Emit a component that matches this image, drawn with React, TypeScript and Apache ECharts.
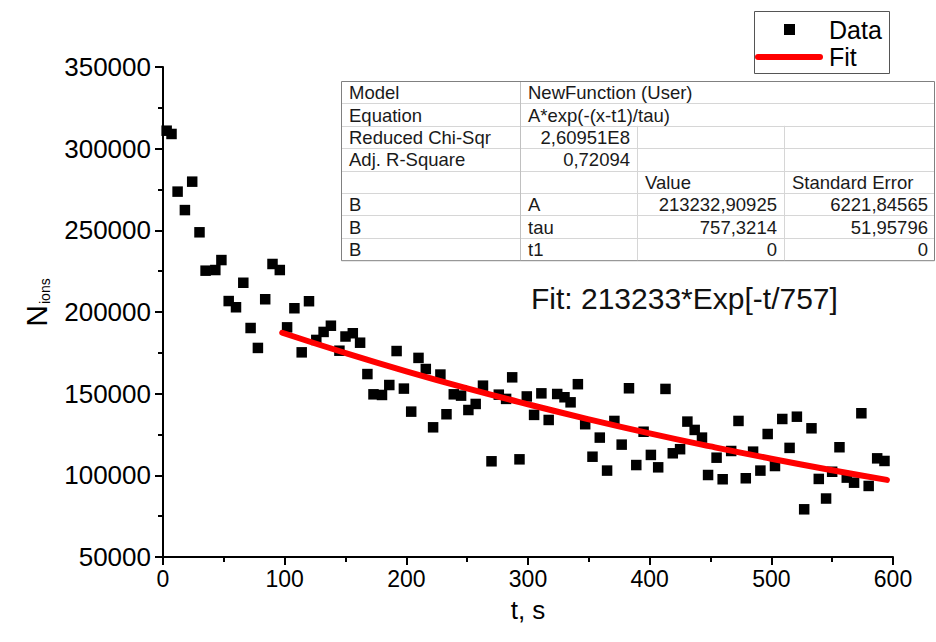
import React, { useEffect, useRef } from "react";
import * as echarts from "echarts";

// Measured data: time (s) and number of ions
const timeS = [
  3, 7, 12, 18, 24, 30, 35, 43, 48, 54, 60, 66, 72, 78, 84, 90, 96, 102, 108, 114,
  120, 126, 132, 138, 145, 150, 156, 162, 168, 173, 180, 186, 192, 198, 204, 210, 216, 222, 228, 233,
  239, 245, 251, 257, 263, 270, 276, 282, 287, 293, 299, 305, 311, 317, 324, 330, 335, 341, 347, 353,
  359, 365, 371, 377, 383, 389, 395, 401, 407, 413, 419, 425, 431, 437, 443, 448, 455, 460, 467, 473,
  479, 485, 491, 497, 503, 509, 515, 521, 527, 533, 539, 545, 550, 556, 562, 568, 574, 580, 587, 593,
];
const ionCounts = [
  311000, 309000, 273700, 262400, 279800, 248800, 225300, 225700, 231800, 206700,
  202900, 217900, 190200, 178000, 207800, 229400, 225700, 190600, 202300, 175300,
  206600, 182900, 187800, 191600, 176300, 185000, 187000, 181200, 162000, 149600,
  149200, 155300, 176100, 153100, 139000, 171900, 165100, 129400, 161700, 137400,
  149600, 148800, 140000, 143700, 154900, 108600, 149400, 146800, 160000, 109800,
  148300, 137000, 150200, 133900, 149800, 147800, 144700, 155800, 131300, 111400,
  123100, 102900, 133300, 118800, 153300, 106300, 126700, 112500, 104900, 152900,
  113500, 116000, 132900, 127800, 123100, 100200, 110800, 97600, 114900, 133300,
  98200, 114500, 102900, 125300, 105700, 134500, 116800, 135900, 79200, 128800,
  97800, 85800, 102200, 117200, 98600, 95500, 138000, 93500, 110400, 108800,
];

// Fit curve
const fitTimes = [98, 150, 200, 250, 300, 350, 400, 450, 500, 550, 595];
const fitValues = [187300, 174900, 163700, 153250, 143500, 134300, 125700, 117700, 110150, 103100, 97200];

// Fit report table
const tableRows = [
  ["Model", "NewFunction (User)", "", ""],
  ["Equation", "A*exp(-(x-t1)/tau)", "", ""],
  ["Reduced Chi-Sqr", "2,60951E8", "", ""],
  ["Adj. R-Square", "0,72094", "", ""],
  ["", "", "Value", "Standard Error"],
  ["B", "A", "213232,90925", "6221,84565"],
  ["B", "tau", "757,3214", "51,95796"],
  ["B", "t1", "0", "0"],
];

const fitLabel = "Fit: 213233*Exp[-t/757]";
const legendNames = ["Data", "Fit"];
const xAxisTitle = "t, s";
const yAxisTitleMain = "N";
const yAxisTitleSub = "ions";

const FONT = "'Liberation Sans', Arial, Helvetica, sans-serif";

function buildTable(): any[] {
  const colX = [341, 520, 637, 784, 935];
  const y0 = 81;
  const rh = 22.4;
  const h = rh * tableRows.length;
  const els: any[] = [];
  els.push({
    type: "rect",
    shape: { x: colX[0] + 0.5, y: y0 + 0.5, width: colX[4] - colX[0] - 1, height: h },
    style: { fill: "#ffffff", stroke: "#808080", lineWidth: 1 },
    z: 10,
  });
  for (let i = 1; i < tableRows.length; i++) {
    const y = Math.round(y0 + i * rh) + 0.5;
    els.push({
      type: "line",
      shape: { x1: colX[0] + 1, y1: y, x2: colX[4] - 1, y2: y },
      style: { stroke: "#d6d6d6", lineWidth: 1 },
      z: 11,
    });
  }
  els.push({
    type: "line",
    shape: { x1: colX[1] + 0.5, y1: y0 + 1, x2: colX[1] + 0.5, y2: y0 + h },
    style: { stroke: "#c0c0c0", lineWidth: 1 },
    z: 11,
  });
  for (const cx of [colX[2], colX[3]]) {
    els.push({
      type: "line",
      shape: { x1: cx + 0.5, y1: y0 + 2 * rh, x2: cx + 0.5, y2: y0 + h },
      style: { stroke: "#d6d6d6", lineWidth: 1 },
      z: 11,
    });
  }
  tableRows.forEach((row, r) => {
    row.forEach((txt, c) => {
      if (!txt) return;
      const numeric = /^[0-9,.E]+$/.test(txt);
      els.push({
        type: "text",
        x: numeric ? colX[c + 1] - 7 : colX[c] + 8,
        y: y0 + r * rh + rh / 2 + 0.5,
        style: {
          text: txt,
          fill: "#1a1a1a",
          font: `18.5px ${FONT}`,
          align: numeric ? "right" : "left",
          verticalAlign: "middle",
        },
        z: 12,
      });
    });
  });
  return els;
}

function buildLegend(): any[] {
  return [
    {
      type: "rect",
      shape: { x: 754.5, y: 11.5, width: 135, height: 62 },
      style: { fill: "#ffffff", stroke: "#555555", lineWidth: 1 },
      z: 10,
    },
    {
      type: "rect",
      shape: { x: 784, y: 24, width: 11, height: 11 },
      style: { fill: "#000000" },
      z: 11,
    },
    {
      type: "line",
      shape: { x1: 758, y1: 57, x2: 820, y2: 57 },
      style: { stroke: "#ff0000", lineWidth: 6, lineCap: "round" },
      z: 11,
    },
    {
      type: "text",
      x: 829,
      y: 30,
      style: { text: legendNames[0], fill: "#000", font: `25px ${FONT}`, align: "left", verticalAlign: "middle", lineHeight: 25 },
      z: 11,
    },
    {
      type: "text",
      x: 829,
      y: 57,
      style: { text: legendNames[1], fill: "#000", font: `25px ${FONT}`, align: "left", verticalAlign: "middle", lineHeight: 25 },
      z: 11,
    },
  ];
}

export default function App() {
  const ref = useRef<HTMLDivElement>(null);

  useEffect(() => {
    document.body.style.margin = "0";
    if (!ref.current) return;
    const chart = echarts.init(ref.current, undefined, { renderer: "svg" });

    const scatterData = timeS.map((t, i) => [t, ionCounts[i]]);
    const fitData = fitTimes.map((t, i) => [t, fitValues[i]]);

    const option: any = {
      animation: false,
      backgroundColor: "#ffffff",
      textStyle: { fontFamily: FONT },
      grid: { left: 163, right: 43, top: 67, bottom: 85, containLabel: false },
      xAxis: {
        type: "value",
        min: 0,
        max: 600,
        interval: 100,
        name: xAxisTitle,
        nameLocation: "middle",
        nameGap: 40,
        nameTextStyle: { fontSize: 26, color: "#000", fontFamily: FONT },
        axisLine: { show: true, onZero: false, lineStyle: { color: "#000", width: 2 } },
        axisTick: { show: true, inside: false, length: 8, lineStyle: { color: "#000", width: 2 } },
        minorTick: { show: true, splitNumber: 2, length: 5, lineStyle: { color: "#000", width: 2 } },
        axisLabel: { fontSize: 23, color: "#000", margin: 10, fontFamily: FONT, formatter: (v: number) => String(v) },
        splitLine: { show: false },
      },
      yAxis: {
        type: "value",
        min: 50000,
        max: 350000,
        interval: 50000,
        axisLine: { show: true, onZero: false, lineStyle: { color: "#000", width: 2 } },
        axisTick: { show: true, inside: false, length: 8, lineStyle: { color: "#000", width: 2 } },
        minorTick: { show: true, splitNumber: 2, length: 5, lineStyle: { color: "#000", width: 2 } },
        axisLabel: { fontSize: 26, color: "#000", margin: 12, fontFamily: FONT, formatter: (v: number) => String(v) },
        splitLine: { show: false },
      },
      series: [
        {
          name: legendNames[0],
          type: "scatter",
          data: scatterData,
          symbol: "rect",
          symbolSize: 10.5,
          itemStyle: { color: "#000000", opacity: 1 },
          z: 2,
        },
        {
          name: legendNames[1],
          type: "line",
          data: fitData,
          smooth: true,
          showSymbol: false,
          symbol: "none",
          lineStyle: { color: "#ff0000", width: 6, cap: "round" },
          z: 3,
        },
      ],
      graphic: [
        ...buildTable(),
        ...buildLegend(),
        {
          type: "text",
          x: 531,
          y: 298,
          style: { text: fitLabel, fill: "#111", font: `30px ${FONT}`, align: "left", verticalAlign: "middle" },
          z: 10,
        },
        {
          type: "group",
          x: 36,
          y: 316,
          rotation: Math.PI / 2,
          children: [
            {
              type: "text",
              x: 0,
              y: 0,
              style: { text: yAxisTitleMain, fill: "#000", font: `30px ${FONT}`, align: "center", verticalAlign: "middle" },
            },
            {
              type: "text",
              x: 12,
              y: 9,
              style: { text: yAxisTitleSub, fill: "#000", font: `14px ${FONT}`, align: "left", verticalAlign: "middle" },
            },
          ],
        },
      ],
    };

    chart.setOption(option);
    return () => {
      chart.dispose();
    };
  }, []);

  return (
    <div
      ref={ref}
      style={{ position: "fixed", left: 0, top: 0, width: 936, height: 642, background: "#fff" }}
    />
  );
}
